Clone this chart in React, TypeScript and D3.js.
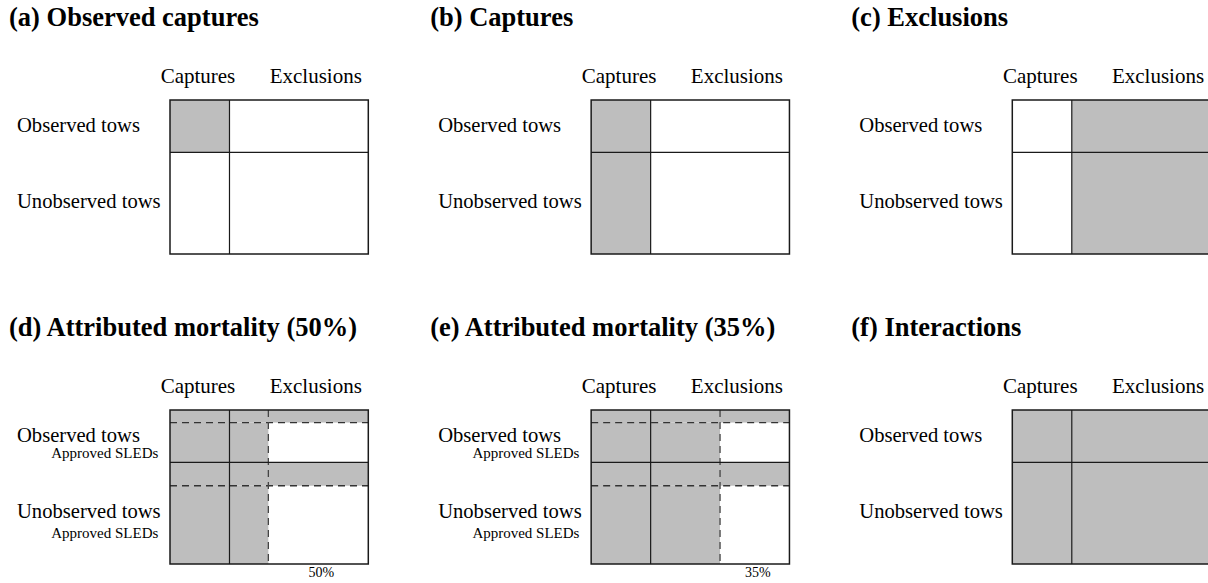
import * as d3 from 'd3';

const PANEL_TITLES = [
  '(a) Observed captures',
  '(b) Captures',
  '(c) Exclusions',
  '(d) Attributed mortality (50%)',
  '(e) Attributed mortality (35%)',
  '(f) Interactions',
];
const COLUMNS = ['Captures', 'Exclusions'];
const COLUMN_SHARE = [0.3, 0.7];
const ROWS = ['Observed tows', 'Unobserved tows'];
const ROW_SHARE = [0.34, 0.66];
const SUB_ROW_LABEL = 'Approved SLEDs';
// share at the top of each row that is without approved SLEDs
const UNAPPROVED_SHARE = [0.24, 0.23];
// fully shaded cells per panel, as [row][col]
const SHADED: number[][][] = [
  [[1, 0], [0, 0]],
  [[1, 0], [1, 0]],
  [[0, 1], [0, 1]],
  [[1, 0], [1, 0]],
  [[1, 0], [1, 0]],
  [[1, 1], [1, 1]],
];
// share of the exclusions column that is attributed (null = no split)
const MORTALITY_SHARE: (number | null)[] = [null, null, null, 0.28, 0.5, null];
const MORTALITY_LABEL = ['', '', '', '50%', '35%', ''];

const W = 1208;
const H = 583;
const GREY = '#bebebe';
const INK = '#1a1a1a';
const FONT = 'Liberation Serif';

function Panel({ i }: { i: number }) {
  const col = i % 3;
  const row = Math.floor(i / 3);
  const left = 170 + col * 421.15;
  const top = 100 + row * 310;
  const boxW = 198.3;
  const boxH = 154;

  const x = d3.scaleLinear().domain([0, 1]).range([0, boxW]);
  const y = d3.scaleLinear().domain([0, 1]).range([0, boxH]);
  const colEdges = [0, ...d3.cumsum(COLUMN_SHARE)];
  const rowEdges = [0, ...d3.cumsum(ROW_SHARE)];
  const split = MORTALITY_SHARE[i];

  const fills: { x0: number; x1: number; y0: number; y1: number }[] = [];
  SHADED[i].forEach((r, ri) =>
    r.forEach((v, ci) => {
      if (v) fills.push({ x0: colEdges[ci], x1: colEdges[ci + 1], y0: rowEdges[ri], y1: rowEdges[ri + 1] });
    }),
  );
  const dashY: number[] = [];
  let splitX = 0;
  if (split != null) {
    splitX = colEdges[1] + split * COLUMN_SHARE[1];
    ROWS.forEach((_, ri) => {
      const strip = rowEdges[ri] + UNAPPROVED_SHARE[ri] * ROW_SHARE[ri];
      dashY.push(strip);
      // strip without approved SLEDs: whole exclusions width
      fills.push({ x0: colEdges[1], x1: 1, y0: rowEdges[ri], y1: strip });
      // attributed part of approved SLED tows
      fills.push({ x0: colEdges[1], x1: splitX, y0: strip, y1: rowEdges[ri + 1] });
    });
  }

  return (
    <g transform={`translate(${left}, ${top})`}>
      <text x={-161} y={-74.5} fontSize={26.5} fontWeight="bold" fontFamily={FONT} fill="#000">
        {PANEL_TITLES[i]}
      </text>
      <text x={x(0.141)} y={-16.7} textAnchor="middle" fontSize={21} fontFamily={FONT} fill="#000">
        {COLUMNS[0]}
      </text>
      <text x={x(0.735)} y={-16.7} textAnchor="middle" fontSize={21} fontFamily={FONT} fill="#000">
        {COLUMNS[1]}
      </text>
      <text x={-153} y={31.7} fontSize={20.6} fontFamily={FONT} fill="#000">
        {ROWS[0]}
      </text>
      <text x={-153} y={108.2} fontSize={20.6} fontFamily={FONT} fill="#000">
        {ROWS[1]}
      </text>
      {split != null && (
        <>
          <text x={-11.7} y={48} textAnchor="end" fontSize={15} fontFamily={FONT} fill="#000">
            {SUB_ROW_LABEL}
          </text>
          <text x={-11.7} y={128.3} textAnchor="end" fontSize={15} fontFamily={FONT} fill="#000">
            {SUB_ROW_LABEL}
          </text>
        </>
      )}

      {fills.map((f, k) => (
        <rect key={k} x={x(f.x0)} y={y(f.y0)} width={x(f.x1) - x(f.x0)} height={y(f.y1) - y(f.y0)} fill={GREY} />
      ))}

      {dashY.map((d, k) => (
        <line key={`dh-${k}`} x1={0} x2={boxW} y1={y(d)} y2={y(d)} stroke="#333" strokeWidth={1.3} strokeDasharray="7,5" />
      ))}
      {split != null && (
        <line x1={x(splitX)} x2={x(splitX)} y1={0} y2={boxH} stroke="#444" strokeWidth={1.3} strokeDasharray="7,5" />
      )}

      <line x1={x(colEdges[1])} x2={x(colEdges[1])} y1={0} y2={boxH} stroke={INK} strokeWidth={1.2} />
      <line x1={0} x2={boxW} y1={y(rowEdges[1])} y2={y(rowEdges[1])} stroke={INK} strokeWidth={1.2} />
      <rect x={0} y={0} width={boxW} height={boxH} fill="none" stroke={INK} strokeWidth={1.5} />

      {split != null && (
        <text
          x={(x(splitX) + boxW) / 2 + 3}
          y={boxH + 13.3}
          textAnchor="middle"
          fontSize={14}
          fontFamily={FONT}
          fill="#000"
        >
          {MORTALITY_LABEL[i]}
        </text>
      )}
    </g>
  );
}

export default function App() {
  return (
    <div style={{ position: 'absolute', left: 0, top: 0, width: W, height: H, overflow: 'hidden', background: '#fff' }}>
      <svg width={W} height={H} style={{ display: 'block' }}>
        <rect width={W} height={H} fill="#fff" />
        {PANEL_TITLES.map((_, i) => (
          <Panel key={i} i={i} />
        ))}
      </svg>
    </div>
  );
}
